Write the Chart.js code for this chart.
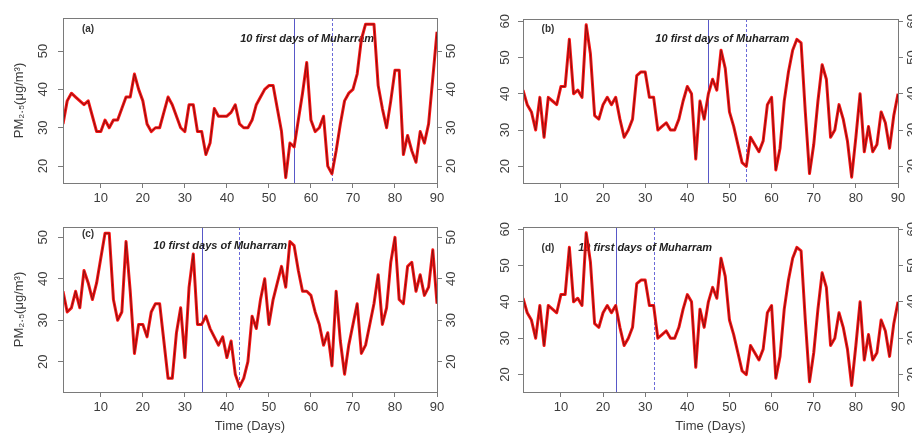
<!DOCTYPE html>
<html>
<head>
<meta charset="utf-8">
<script src="https://cdn.jsdelivr.net/npm/chart.js@4.4.0/dist/chart.umd.min.js"></script>
<style>
  html, body { margin: 0; padding: 0; background: #fff; }
  #wrap { position: relative; width: 912px; height: 434px; overflow: hidden; }
  #wrap canvas { position: absolute; }
</style>
</head>
<body>
<div id="wrap">
  <canvas id="pa" width="456" height="217" style="left:0;top:0"></canvas>
  <canvas id="pb" width="456" height="217" style="left:456px;top:0"></canvas>
  <canvas id="pc" width="456" height="217" style="left:0;top:217px"></canvas>
  <canvas id="pd" width="456" height="217" style="left:456px;top:217px"></canvas>
</div>
<script>
// daily PM2.5 over 90 days, one array per panel
const days = Array.from({ length: 90 }, (_, i) => i + 1);

const pmA = [31, 37, 39, 38, 37, 36, 37, 33, 29, 29,
             32, 30, 32, 32, 35, 38, 38, 44, 40, 37,
             31, 29, 30, 30, 34, 38, 36, 33, 30, 29,
             36, 36, 29, 29, 23, 26, 35, 33, 33, 33,
             34, 36, 31, 30, 30, 32, 36, 38, 40, 41,
             41, 35, 29, 17, 26, 25, 32, 39, 47, 32,
             29, 30, 33, 20, 18, 24, 31, 37, 39, 40,
             44, 53, 57, 57, 57, 41, 35, 30, 37, 45,
             45, 23, 28, 24, 21, 29, 26, 31, 43, 55];

const pmB = [41, 37, 35, 30, 39, 28, 39, 38, 37, 42,
             42, 55, 40, 41, 39, 59, 51, 34, 33, 37,
             39, 37, 39, 33, 28, 30, 33, 45, 46, 46,
             39, 39, 30, 31, 32, 30, 30, 33, 38, 42,
             40, 22, 38, 33, 40, 44, 41, 52, 47, 35,
             31, 26, 21, 20, 28, 26, 24, 27, 37, 39,
             19, 25, 38, 46, 52, 55, 54, 35, 18, 26,
             38, 48, 44, 28, 30, 37, 33, 27, 17, 28,
             40, 24, 31, 24, 26, 35, 32, 25, 34, 40];

const pmC = [37, 32, 33, 37, 33, 42, 39, 35, 39, 45,
             51, 51, 35, 30, 32, 49, 37, 22, 29, 29,
             26, 32, 34, 34, 25, 16, 16, 27, 33, 21,
             38, 46, 29, 29, 31, 28, 26, 24, 26, 21,
             25, 17, 14, 16, 20, 31, 28, 35, 40, 29,
             35, 39, 43, 38, 49, 48, 42, 37, 37, 36,
             32, 29, 24, 27, 19, 37, 25, 17, 24, 29,
             34, 22, 24, 29, 34, 41, 29, 33, 44, 50,
             35, 34, 43, 44, 37, 41, 36, 38, 47, 34];

const pmD = [41, 37, 35, 30, 39, 28, 39, 38, 37, 42,
             42, 55, 40, 41, 39, 59, 51, 34, 33, 37,
             39, 37, 39, 33, 28, 30, 33, 45, 46, 46,
             39, 39, 30, 31, 32, 30, 30, 33, 38, 42,
             40, 22, 38, 33, 40, 44, 41, 52, 47, 35,
             31, 26, 21, 20, 28, 26, 24, 27, 37, 39,
             19, 25, 38, 46, 52, 55, 54, 35, 18, 26,
             38, 48, 44, 28, 30, 37, 33, 27, 17, 28,
             40, 24, 31, 24, 26, 35, 32, 25, 34, 40];

const xTicks = [10, 20, 30, 40, 50, 60, 70, 80, 90];
const yTicksA = [20, 30, 40, 50];
const yTicksB = [20, 30, 40, 50, 60];
const yTicksC = [20, 30, 40, 50];
const yTicksD = [20, 30, 40, 50, 60];

const panelLetters = ['(a)', '(b)', '(c)', '(d)'];
const muharramStart = [56, 45, 34, 23];
const muharramEnd = [65, 54, 43, 32];
const noteText = '10 first days of Muharram';
const xTitle = 'Time (Days)';
const yTitle = 'PM\u2082.\u2085(\u03bcg/m\u00b3)';

const FONT = '"Liberation Sans", Arial, sans-serif';
const FRAME = '#7a7a7a';
const TEXT = '#3c3c3c';

const panels = [
  { id: 'pa', data: pmA, ticks: yTicksA, min: 15.6, max: 58.6, top: 18, leftW: 63, rightW: 19, bottomH: 34,
    yPad: 7.5, showX: false, showY: true, noteAt: 59.1, noteDy: 21, letterDy: 11 },
  { id: 'pb', data: pmB, ticks: yTicksB, min: 15.4, max: 60.6, top: 19, leftW: 67, rightW: 14, bottomH: 34,
    yPad: 5, showX: false, showY: false, noteAt: 48.3, noteDy: 20, letterDy: 10 },
  { id: 'pc', data: pmC, ticks: yTicksC, min: 12.7, max: 52.5, top: 10, leftW: 63, rightW: 19, bottomH: 42,
    yPad: 7.5, showX: true, showY: true, noteAt: 38.4, noteDy: 18.5, letterDy: 7 },
  { id: 'pd', data: pmD, ticks: yTicksD, min: 15.2, max: 60.6, top: 10, leftW: 67, rightW: 14, bottomH: 42,
    yPad: 5, showX: true, showY: false, noteAt: 30, noteDy: 20.5, letterDy: 21.5 }
];

const markers = {
  id: 'markers',
  beforeDatasetsDraw(chart, args, o) {
    const { ctx, chartArea: a, scales: { x } } = chart;
    ctx.save();
    ctx.lineWidth = 1;
    const xs = Math.round(x.getPixelForValue(o.start)) + 0.5;
    ctx.strokeStyle = '#5858c8';
    ctx.beginPath(); ctx.moveTo(xs, a.top); ctx.lineTo(xs, a.bottom); ctx.stroke();
    const xe = Math.round(x.getPixelForValue(o.end)) + 0.5;
    ctx.strokeStyle = '#6a6ad8';
    ctx.setLineDash([3, 2]);
    ctx.beginPath(); ctx.moveTo(xe, a.top); ctx.lineTo(xe, a.bottom); ctx.stroke();
    ctx.setLineDash([]);
    ctx.fillStyle = '#222';
    ctx.textAlign = 'center';
    ctx.textBaseline = 'middle';
    ctx.font = 'italic bold 11px ' + FONT;
    ctx.fillText(noteText, x.getPixelForValue(o.noteAt), a.top + o.noteDy);
    ctx.font = 'bold 10px ' + FONT;
    ctx.fillStyle = '#333';
    ctx.fillText(o.letter, a.left + 25, a.top + o.letterDy);
    ctx.restore();
  },
  afterDatasetsDraw(chart) {
    const { ctx, chartArea: a } = chart;
    ctx.save();
    ctx.strokeStyle = FRAME;
    ctx.lineWidth = 1;
    ctx.strokeRect(a.left + 0.5, a.top + 0.5, a.right - a.left, a.bottom - a.top);
    ctx.restore();
  }
};

function yAxis(p, side) {
  return {
    type: 'linear',
    position: side,
    min: p.min,
    max: p.max,
    afterBuildTicks: s => { s.ticks = p.ticks.map(v => ({ value: v })); },
    afterFit: s => {
      s.width = side === 'left' ? p.leftW : p.rightW;
      s.paddingTop = 0; s.paddingBottom = 0;
    },
    grid: { drawOnChartArea: false, drawTicks: true, tickLength: 5, tickColor: FRAME, color: FRAME },
    border: { display: false },
    ticks: {
      minRotation: 90, maxRotation: 90, crossAlign: 'center',
      padding: side === 'left' ? p.yPad : 2,
      color: TEXT, font: { family: FONT, size: 13 }
    },
    title: {
      display: side === 'left' && p.showY, text: yTitle, color: TEXT,
      font: { family: FONT, size: 13 }, padding: { top: 12, bottom: 0 }
    }
  };
}

panels.forEach((p, i) => {
  const points = days.map((d, k) => ({ x: d, y: p.data[k] }));
  new Chart(document.getElementById(p.id), {
    type: 'line',
    data: {
      datasets: [
        // dark core drawn on top of the red stroke
        { data: points, borderColor: '#7c1010', borderWidth: 0.9, pointRadius: 0, tension: 0, order: 0 },
        { data: points, borderColor: '#fa1616', borderWidth: 3, pointRadius: 0, tension: 0,
          borderJoinStyle: 'round', order: 1 }
      ]
    },
    options: {
      responsive: false,
      animation: false,
      layout: { padding: { top: p.top, left: 0, right: 0, bottom: 0 } },
      plugins: {
        legend: { display: false },
        tooltip: { enabled: false },
        markers: { start: muharramStart[i], end: muharramEnd[i], noteAt: p.noteAt,
                   noteDy: p.noteDy, letter: panelLetters[i], letterDy: p.letterDy }
      },
      scales: {
        x: {
          type: 'linear', position: 'bottom', min: 1, max: 90,
          afterBuildTicks: s => { s.ticks = xTicks.map(v => ({ value: v })); },
          afterFit: s => { s.height = p.bottomH; s.paddingLeft = 0; s.paddingRight = 0; },
          grid: { drawOnChartArea: false, drawTicks: true, tickLength: 5, tickColor: FRAME, color: FRAME },
          border: { display: false },
          ticks: { color: TEXT, font: { family: FONT, size: 13 }, padding: 3, maxRotation: 0, autoSkip: false },
          title: { display: p.showX, text: xTitle, color: TEXT, font: { family: FONT, size: 13 },
                   padding: { top: 0, bottom: 0 } }
        },
        y: yAxis(p, 'left'),
        y2: yAxis(p, 'right')
      }
    },
    plugins: [markers]
  });
});
</script>
</body>
</html>
